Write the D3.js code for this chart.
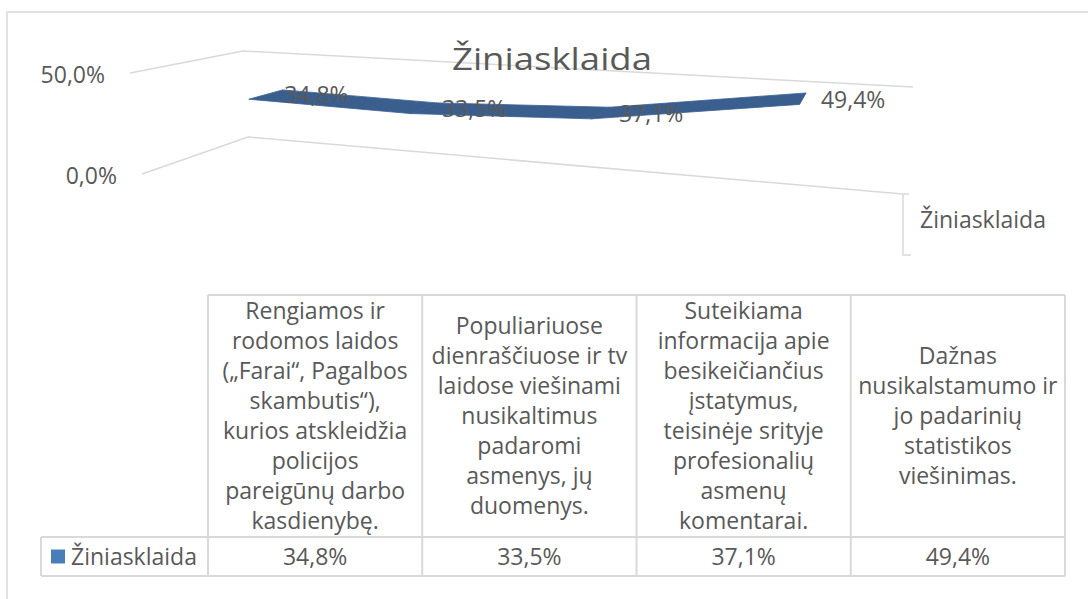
<!DOCTYPE html>
<html>
<head>
<meta charset="utf-8"/>
<script src="https://d3js.org/d3.v7.min.js"></script>
<style type="text/css">
body {
  margin: 0;
  overflow: hidden;
  background: #fff;
}
text {
  font-family: "Open Sans", sans-serif;
  fill: #595959;
}
</style>
</head>
<body>
<div id="v"></div>
<script type="text/javascript">
var seriesName = "Žiniasklaida";
var categories = [
  "Rengiamos ir\nrodomos laidos\n(„Farai“, Pagalbos\nskambutis“),\nkurios atskleidžia\npolicijos\npareigūnų darbo\nkasdienybę.",
  "Populiariuose\ndienraščiuose ir tv\nlaidose viešinami\nnusikaltimus\npadaromi\nasmenys, jų\nduomenys.",
  "Suteikiama\ninformacija apie\nbesikeičiančius\nįstatymus,\nteisinėje srityje\nprofesionalių\nasmenų\nkomentarai.",
  "Dažnas\nnusikalstamumo ir\njo padarinių\nstatistikos\nviešinimas."
];
var values = [0.348, 0.335, 0.371, 0.494];
var valueTicks = [0, 0.5];

var width = 1088, height = 599;
var fmt = function(v) { return d3.format(".1%")(v).replace(".", ","); };

var svg = d3.select("#v").append("svg")
  .attr("width", width)
  .attr("height", height);

// chart frame (only the top and left edges are inside the picture)
svg.append("path")
  .attr("d", "M7," + height + "V12H" + width)
  .attr("fill", "none")
  .attr("stroke", "#d9d9d9")
  .attr("stroke-width", 1.5);

// 3D box seen in perspective: corners keyed by u (category), v (value), w (depth, 0 = back)
var box = {
  p000: [248, 137], p010: [243, 51], p100: [903, 194], p110: [913, 87],
  p001: [142, 174], p011: [130, 73], p101: [903, 255], p111: [915, 124]
};
// relative distance from the camera, by u and w
var depthZ = {"00": 1, "10": 0.804, "01": 0.851, "11": 0.656};

function project(u, v, w) {
  var sx = 0, sy = 0, sz = 0;
  [0, 1].forEach(function(a) {
    [0, 1].forEach(function(b) {
      [0, 1].forEach(function(c) {
        var k = (a ? u : 1 - u) * (b ? v : 1 - v) * (c ? w : 1 - w) * depthZ["" + a + c];
        var p = box["p" + a + b + c];
        sx += k * p[0];
        sy += k * p[1];
        sz += k;
      });
    });
  });
  return [sx / sz, sy / sz];
}

var xScale = d3.scalePoint().domain(d3.range(categories.length)).range([0, 1]).padding(0.5);
var yScale = d3.scaleLinear().domain([0, 0.5]).range([0, 1]);
var zScale = d3.scaleBand().domain([seriesName]).range([0, 1]).padding(0.5);

// gridlines on the left wall and back wall
var line = d3.line();
svg.selectAll(".grid")
  .data(valueTicks).enter()
  .append("path")
  .attr("class", "grid")
  .attr("d", function(t) {
    var v = yScale(t);
    return line([project(0, v, 1), project(0, v, 0), project(1, v, 0)]);
  })
  .attr("fill", "none")
  .attr("stroke", "#d9d9d9")
  .attr("stroke-width", 1.5);

svg.selectAll(".ylabel")
  .data(valueTicks).enter()
  .append("text")
  .attr("class", "ylabel")
  .attr("x", function(t) { return project(0, yScale(t), 1)[0] - 25; })
  .attr("y", function(t) { return project(0, yScale(t), 1)[1] + 2; })
  .attr("dy", "0.35em")
  .attr("text-anchor", "end")
  .style("font-size", "23px")
  .text(fmt);

// depth (series) axis on the right
var d0 = project(1, 0, 0), d1 = project(1, 0, 1);
svg.append("path")
  .attr("d", line([[d0[0] + 6, d0[1]], d0, d1, [d1[0] + 8, d1[1]]]))
  .attr("fill", "none")
  .attr("stroke", "#d9d9d9")
  .attr("stroke-width", 1.5);

var dm = project(1, 0, zScale(seriesName) + zScale.bandwidth() / 2);
svg.append("text")
  .attr("x", dm[0] + 17)
  .attr("y", dm[1] - 1)
  .attr("dy", "0.35em")
  .style("font-size", "23px")
  .text(seriesName);

// the ribbon
var wBack = zScale(seriesName), wFront = zScale(seriesName) + zScale.bandwidth();
var segments = d3.pairs(values.map(function(d, i) { return {i: i, v: d}; }));
svg.selectAll(".ribbon")
  .data(segments).enter()
  .append("path")
  .attr("class", "ribbon")
  .attr("d", function(s) {
    var a = s[0], b = s[1];
    return line([
      project(xScale(a.i), yScale(a.v), wBack),
      project(xScale(b.i), yScale(b.v), wBack),
      project(xScale(b.i), yScale(b.v), wFront),
      project(xScale(a.i), yScale(a.v), wFront)
    ]) + "Z";
  })
  .attr("fill", "#3a5f8f")
  .attr("stroke", "#3a5f8f")
  .attr("stroke-width", 0.8);

// data labels, to the right of each point
var wMid = zScale(seriesName) + zScale.bandwidth() / 2;
svg.selectAll(".dlabel")
  .data(values).enter()
  .append("text")
  .attr("class", "dlabel")
  .attr("x", function(d, i) { return project(xScale(i), yScale(d), wMid)[0] + 18; })
  .attr("y", function(d, i) { return project(xScale(i), yScale(d), wMid)[1] + 1; })
  .attr("dy", "0.35em")
  .style("font-size", "23px")
  .text(fmt);

// title
svg.append("text")
  .attr("x", 552)
  .attr("y", 70)
  .attr("text-anchor", "middle")
  .attr("textLength", 200)
  .attr("lengthAdjust", "spacingAndGlyphs")
  .style("font-size", "31px")
  .text(seriesName);

// data table
var colX = d3.scaleBand().domain(d3.range(categories.length)).range([208, 1065]);
var tableTop = 295, headerBottom = 537, tableBottom = 576, legendLeft = 41;
var lineGap = 30;
var table = svg.append("g");
var border = {stroke: "#d9d9d9", width: 2};

function hline(y, x1, x2) {
  table.append("line").attr("x1", x1).attr("x2", x2).attr("y1", y).attr("y2", y)
    .attr("stroke", border.stroke).attr("stroke-width", border.width);
}
function vline(x, y1, y2) {
  table.append("line").attr("x1", x).attr("x2", x).attr("y1", y1).attr("y2", y2)
    .attr("stroke", border.stroke).attr("stroke-width", border.width);
}
hline(tableTop, colX.range()[0], colX.range()[1]);
hline(headerBottom, legendLeft, colX.range()[1]);
hline(tableBottom, legendLeft, colX.range()[1]);
vline(legendLeft, headerBottom, tableBottom);
categories.forEach(function(c, i) { vline(colX(i), tableTop, tableBottom); });
vline(colX.range()[1], tableTop, tableBottom);

var headerMid = (tableTop + headerBottom) / 2;
table.selectAll(".head")
  .data(categories).enter()
  .append("text")
  .attr("class", "head")
  .attr("text-anchor", "middle")
  .style("font-size", "23px")
  .each(function(c, i) {
    var lines = c.split("\n");
    var t = d3.select(this);
    lines.forEach(function(l, j) {
      t.append("tspan")
        .attr("x", colX(i) + colX.bandwidth() / 2)
        .attr("y", headerMid + (j - (lines.length - 1) / 2) * lineGap)
        .attr("dy", "0.35em")
        .text(l);
    });
  });

var rowMid = (headerBottom + tableBottom) / 2;
table.selectAll(".cell")
  .data(values).enter()
  .append("text")
  .attr("class", "cell")
  .attr("x", function(d, i) { return colX(i) + colX.bandwidth() / 2; })
  .attr("y", rowMid)
  .attr("dy", "0.35em")
  .attr("text-anchor", "middle")
  .style("font-size", "23px")
  .text(fmt);

table.append("rect")
  .attr("x", 51).attr("y", rowMid - 7)
  .attr("width", 14).attr("height", 14)
  .attr("fill", "#4a7ebb");
table.append("text")
  .attr("x", 71)
  .attr("y", rowMid)
  .attr("dy", "0.35em")
  .style("font-size", "23px")
  .text(seriesName);
</script>
</body>
</html>
